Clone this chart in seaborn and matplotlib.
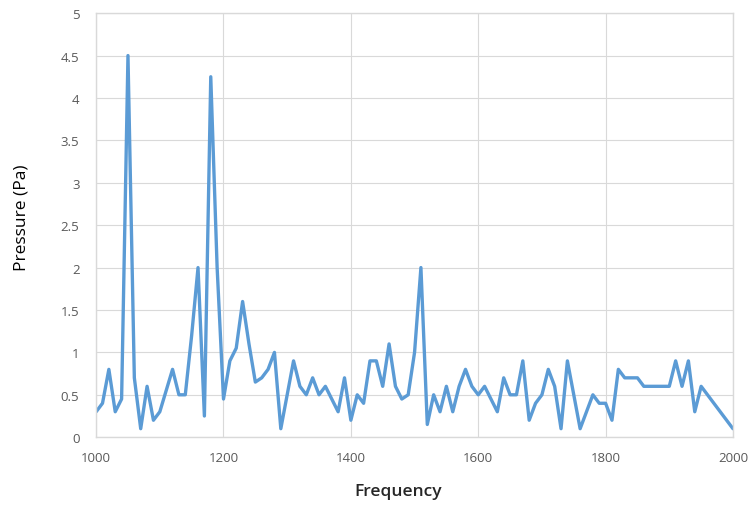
import numpy as np
import pandas as pd
import matplotlib
matplotlib.use("Agg")
import matplotlib.pyplot as plt
import seaborn as sns
from matplotlib.ticker import FuncFormatter

# valeurs (pas de 10 Hz)
frequency = np.arange(1000, 2001, 10)
pressure = [
    0.30, 0.40, 0.80, 0.30, 0.45, 4.50, 0.70, 0.10, 0.60, 0.20,
    0.30, 0.55, 0.80, 0.50, 0.50, 1.20, 2.00, 0.25, 4.25, 2.00,
    0.45, 0.90, 1.05, 1.60, 1.10, 0.65, 0.70, 0.80, 1.00, 0.10,
    0.50, 0.90, 0.60, 0.50, 0.70, 0.50, 0.60, 0.45, 0.30, 0.70,
    0.20, 0.50, 0.40, 0.90, 0.90, 0.60, 1.10, 0.60, 0.45, 0.50,
    1.00, 2.00, 0.15, 0.50, 0.30, 0.60, 0.30, 0.60, 0.80, 0.60,
    0.50, 0.60, 0.45, 0.30, 0.70, 0.50, 0.50, 0.90, 0.20, 0.40,
    0.50, 0.80, 0.60, 0.10, 0.90, 0.50, 0.10, 0.30, 0.50, 0.40,
    0.40, 0.20, 0.80, 0.70, 0.70, 0.70, 0.60, 0.60, 0.60, 0.60,
    0.60, 0.90, 0.60, 0.90, 0.30, 0.60, 0.50, 0.40, 0.30, 0.20,
    0.10,
]
x_ticks = [1000, 1200, 1400, 1600, 1800, 2000]
y_ticks = [0, 0.5, 1, 1.5, 2, 2.5, 3, 3.5, 4, 4.5, 5]

df = pd.DataFrame({"Frequency": frequency, "Pressure": pressure})

sns.set_style("whitegrid", {"grid.color": "#D9D9D9", "axes.edgecolor": "#D9D9D9"})
plt.rcParams["font.family"] = ["Open Sans", "DejaVu Sans"]

fig = plt.figure(figsize=(7.51, 5.06), dpi=100)
ax = fig.add_axes([0.128, 0.134, 0.848, 0.838])

sns.lineplot(data=df, x="Frequency", y="Pressure", ax=ax, color="#5B9BD5",
             linewidth=2.4, solid_joinstyle="round", solid_capstyle="round")

ax.set_xlim(1000, 2000)
ax.set_ylim(0, 5)
ax.set_xticks(x_ticks)
ax.set_yticks(y_ticks)
ax.yaxis.set_major_formatter(FuncFormatter(lambda v, p: f"{v:g}"))
ax.tick_params(axis="both", length=0, labelsize=9.5, labelcolor="#595959")
ax.tick_params(axis="x", pad=10)
ax.tick_params(axis="y", pad=12)
for s in ax.spines.values():
    s.set_linewidth(1.0)

ax.set_xlabel("Frequency", fontsize=12.5, color="#262626", fontweight="semibold")
ax.xaxis.set_label_coords(0.474, -0.108)
ax.set_ylabel("Pressure (Pa)", fontsize=12.5, color="#000000")
ax.yaxis.set_label_coords(-0.105, 0.52)

plt.savefig("out.png", dpi=100)
plt.close()
